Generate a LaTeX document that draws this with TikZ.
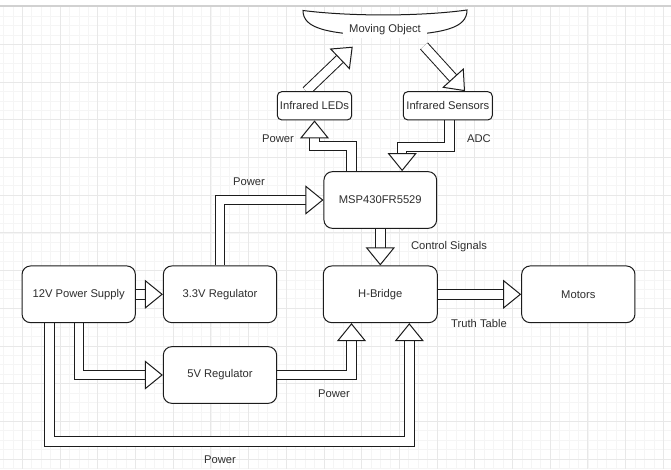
\documentclass[tikz,border=0pt]{standalone}
\usepackage{fontspec}
\setmainfont{Liberation Sans}
\usetikzlibrary{arrows.meta,calc}
\pgfdeclarelayer{gridlayer}
\pgfdeclarelayer{arrowlayer}
\pgfsetlayers{gridlayer,arrowlayer,main}
\definecolor{ink}{HTML}{1C1C1C}
\definecolor{txt}{HTML}{2E2E2E}
\tikzset{
  txtfont/.style={font=\fontsize{11.2}{13}\selectfont},
  box/.style={draw=ink, line width=1pt, fill=white, rounded corners=8.5pt,
    minimum width=113.3pt, minimum height=56.7pt, inner sep=0pt, text=txt, txtfont},
  smallbox/.style={box, rounded corners=4.5pt, minimum height=28.3pt},
  lbl/.style={text=txt, txtfont, inner sep=0pt},
  shaft/.style={draw=ink, line width=1pt, double=white, double distance=8.4pt, shorten >=17pt},
  head/.style={draw=white, line width=1pt,
    -{Triangle[color=ink, fill=white, length=18pt, width=29pt, line width=1pt]}},
  gridminor/.style={draw=black!4, line width=0.6pt},
  gridmajor/.style={draw=black!9, line width=0.8pt},
}
\begin{document}
\begin{tikzpicture}[x=1pt, y=-1pt]
\useasboundingbox (0,0) rectangle (671,469);
% grid
\begin{pgfonlayer}{gridlayer}
  \fill[white] (0,0) rectangle (671,469);
  \foreach \i in {0,...,71} \draw[gridminor] ({3.5+9.425*\i},6) -- ({3.5+9.425*\i},469);
  \foreach \j in {0,...,49} \draw[gridminor] (0,{6.6+9.425*\j}) -- (671,{6.6+9.425*\j});
  \foreach \i in {0,...,17} \draw[gridmajor] ({22.3+37.7*\i},6) -- ({22.3+37.7*\i},469);
  \foreach \j in {0,...,12} \draw[gridmajor] (0,{6.6+37.7*\j}) -- (671,{6.6+37.7*\j});
  \draw[draw=black!18, line width=1.5pt] (0,6) -- (671,6);
\end{pgfonlayer}

% moving object
\draw[draw=ink, line width=1pt, fill=white]
  (303,10.5) .. controls (350,16.5) and (420,16.5) .. (467,10)
  .. controls (467,28) and (445,34) .. (385,36)
  .. controls (325,34) and (303,28) .. (303,10.5) -- cycle;
\node[lbl, fill=white, inner xsep=6pt, inner ysep=3pt] (mo) at (385,29.5) {Moving Object};

% boxes
\node[smallbox, minimum width=74.4pt] (leds) at (314.5,105.8) {Infrared LEDs};
\node[smallbox, minimum width=89pt] (sens) at (447.8,105.8) {Infrared Sensors};
\node[box, minimum width=112.7pt] (msp) at (380.3,200) {MSP430FR5529};
\node[box] (ps) at (78.7,294.3) {12V Power Supply};
\node[box] (reg33) at (220,294.3) {3.3V Regulator};
\node[box] (reg5) at (220,375) {5V Regulator};
\node[box, minimum width=114pt] (hb) at (380.3,294.3) {H-Bridge};
\node[box] (mot) at (578.3,294.3) {Motors};

% connector end points
\coordinate (leds-out) at ($(leds.north west)+(29.5,0)$);
\coordinate (mo-in) at (352.7,46.7);
\coordinate (mo-out) at (424,46);
\coordinate (sens-in) at ($(sens.north)+(17.2,0)$);
\coordinate (msp-out) at ($(msp.north west)+(28,0)$);
\coordinate (msp-in) at ($(msp.north east)+(-35,0)$);
\coordinate (sens-out) at ($(sens.south)+(1.7,0)$);
\coordinate (ps-out) at ($(ps.south west)+(28,0)$);
\coordinate (hb-in1) at ($(hb.south west)+(28.7,0)$);
\coordinate (hb-in2) at ($(hb.south east)+(-28.5,0)$);

% block arrows
\begin{pgfonlayer}{arrowlayer}
  \foreach \p in {
      {(leds-out) -- (mo-in)},
      {(mo-out) -- (sens-in)},
      {(msp-out) -- ++(0,-25) -| (leds.south)},
      {(sens-out) -- ++(0,26.7) -| (msp-in)},
      {(reg33.north) |- (msp.west)},
      {(msp.south) -- (hb.north)},
      {(hb.east) -- (mot.west)},
      {(ps.east) -- (reg33.west)},
      {(ps.south) |- (reg5.west)},
      {(reg5.east) -| (hb-in1)},
      {(ps-out) -- ++(0,118.5) -| (hb-in2)}} {
    \draw[shaft] \p;
    \draw[head] \p;
  }
\end{pgfonlayer}

% labels
\node[lbl] (l1) at (278,139) {Power};
\node[lbl] (l2) at (479,139) {ADC};
\node[lbl] (l3) at (249,182) {Power};
\node[lbl] (l4) at (449,247) {Control Signals};
\node[lbl] (l5) at (479,323) {Truth Table};
\node[lbl] (l6) at (334,393.5) {Power};
\node[lbl] (l7) at (220,460) {Power};
\end{tikzpicture}
\end{document}
